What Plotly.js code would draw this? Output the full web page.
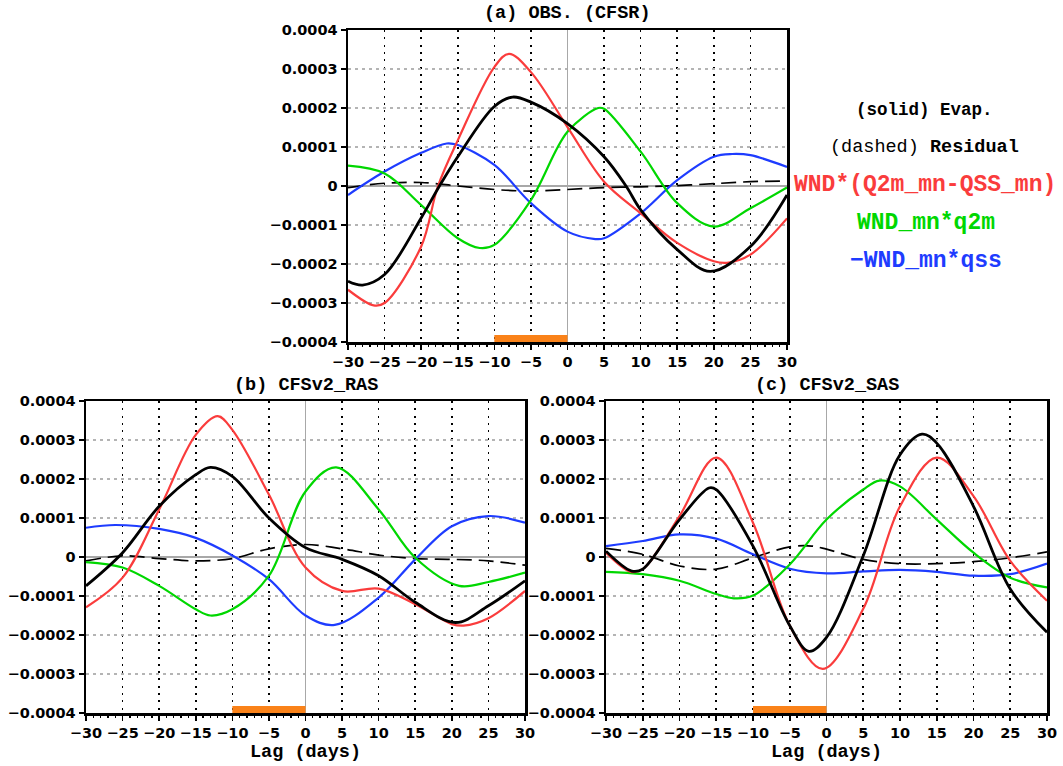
<!DOCTYPE html>
<html>
<head>
<meta charset="utf-8">
<script src="https://cdn.plot.ly/plotly-3.0.1.min.js"></script>
<style>html,body{margin:0;padding:0;background:#fff;}#chart{width:1063px;height:766px;}</style>
</head>
<body>
<div id="chart"></div>
<script>
// ---- Data ----
const xTicks = [-30,-25,-20,-15,-10,-5,0,5,10,15,20,25,30];
const yTicks = [-0.0004,-0.0003,-0.0002,-0.0001,0,0.0001,0.0002,0.0003,0.0004];
const yTickLabels = ['\u22120.0004','\u22120.0003','\u22120.0002','\u22120.0001','0','0.0001','0.0002','0.0003','0.0004'];
const panelTitles = ['(a) OBS. (CFSR)','(b) CFSv2_RAS','(c) CFSv2_SAS'];
const xTitle = 'Lag (days)';
const seriesNames = ['Evap.','WND*(Q2m_mn-QSS_mn)','WND_mn*q2m','-WND_mn*qss','Residual'];
const onsetWindow = [-10, 0];

// Panel (a)
const aEvapX = [-30,-28,-25,-20,-17.5,-15,-10,-7.5,-5,0,5,8,10,15,19.5,25,30];
const aEvapY = [-2.44e-4,-2.54e-4,-2.27e-4,-0.82e-4,0,0.75e-4,2.04e-4,2.28e-4,2.15e-4,1.6e-4,0.75e-4,0,-0.61e-4,-1.63e-4,-2.19e-4,-1.55e-4,-0.23e-4];
const aWndX = [-30,-26.5,-25,-20,-17.7,-15,-10,-8,-5,0,5,10,15,20,21.8,25,30];
const aWndY = [-2.66e-4,-3.06e-4,-3.0e-4,-1.55e-4,0,1.17e-4,3.05e-4,3.39e-4,2.92e-4,1.51e-4,0.11e-4,-0.7e-4,-1.46e-4,-1.93e-4,-1.97e-4,-1.76e-4,-0.83e-4];
const aQ2mX = [-30,-25,-20,-15,-12,-10,-5,0,4.2,5,10,15,20,25,30];
const aQ2mY = [0.52e-4,0.32e-4,-0.49e-4,-1.34e-4,-1.59e-4,-1.51e-4,-0.36e-4,1.39e-4,2.0e-4,1.98e-4,0.88e-4,-0.44e-4,-1.04e-4,-0.57e-4,-0.04e-4];
const aQssX = [-30,-25,-20,-16.5,-15,-10,-5,0,3.8,5,10,15,20,22.5,25,30];
const aQssY = [-0.23e-4,0.37e-4,0.85e-4,1.09e-4,1.05e-4,0.54e-4,-0.44e-4,-1.17e-4,-1.36e-4,-1.34e-4,-0.7e-4,0.15e-4,0.75e-4,0.82e-4,0.79e-4,0.49e-4];
const aResX = [-30,-25,-20,-15,-10,-5,0,5,10,15,20,25,30];
const aResY = [-0.04e-4,0.07e-4,0.09e-4,0,-0.09e-4,-0.13e-4,-0.09e-4,-0.04e-4,-0.02e-4,0.01e-4,0.06e-4,0.11e-4,0.13e-4];

// Panel (b)
const bEvapX = [-30,-25,-20,-15,-13,-10,-5,0,5,10,15,20.5,25,30];
const bEvapY = [-0.74e-4,0.11e-4,1.3e-4,2.11e-4,2.3e-4,2.07e-4,1.0e-4,0.24e-4,-0.06e-4,-0.48e-4,-1.16e-4,-1.68e-4,-1.25e-4,-0.61e-4];
const bWndX = [-30,-25,-20,-15,-12,-10,-5,0,5,10,15,20,21.6,25,30];
const bWndY = [-1.29e-4,-0.53e-4,1.22e-4,3.13e-4,3.61e-4,3.26e-4,1.6e-4,-0.27e-4,-0.87e-4,-0.81e-4,-1.21e-4,-1.72e-4,-1.76e-4,-1.57e-4,-0.87e-4];
const bQ2mX = [-30,-25,-20,-15,-13,-10,-5,0,4.2,10,15,21,25,30];
const bQ2mY = [-0.13e-4,-0.27e-4,-0.74e-4,-1.34e-4,-1.5e-4,-1.34e-4,-0.48e-4,1.68e-4,2.3e-4,1.22e-4,-0.02e-4,-0.74e-4,-0.64e-4,-0.4e-4];
const bQssX = [-30,-26,-20,-15,-10,-5,0,4,10,15,20,25,30];
const bQssY = [0.75e-4,0.82e-4,0.72e-4,0.49e-4,0.04e-4,-0.57e-4,-1.5e-4,-1.74e-4,-1.04e-4,-0.06e-4,0.79e-4,1.05e-4,0.88e-4];
const bResX = [-30,-25,-20,-15,-10,-5,0,5,10,15,20,25,30];
const bResY = [-0.1e-4,0.03e-4,-0.04e-4,-0.1e-4,-0.04e-4,0.21e-4,0.32e-4,0.21e-4,0.05e-4,-0.04e-4,-0.06e-4,-0.1e-4,-0.21e-4];

// Panel (c)
const cEvapX = [-30,-26.5,-25,-20,-16,-15,-10,-5,-2.4,0,5,10,13,15,20,25,30];
const cEvapY = [0.15e-4,-0.36e-4,-0.31e-4,0.96e-4,1.77e-4,1.73e-4,0.28e-4,-1.76e-4,-2.42e-4,-2.06e-4,0.03e-4,2.62e-4,3.15e-4,2.92e-4,1.3e-4,-0.82e-4,-1.93e-4];
const cWndX = [-30,-26.6,-25,-20,-15,-10,-5,-0.5,5,10,15,20,25,30];
const cWndY = [0.11e-4,-0.38e-4,-0.31e-4,1.05e-4,2.55e-4,0.88e-4,-1.76e-4,-2.87e-4,-1.33e-4,1.3e-4,2.55e-4,1.56e-4,-0.1e-4,-1.12e-4];
const cQ2mX = [-30,-25,-20,-15,-12.6,-10,-5,0,5,7.2,10,15,20,25,30];
const cQ2mY = [-0.38e-4,-0.44e-4,-0.61e-4,-0.95e-4,-1.06e-4,-0.99e-4,-0.19e-4,0.96e-4,1.73e-4,1.96e-4,1.81e-4,0.96e-4,0.11e-4,-0.53e-4,-0.78e-4];
const cQssX = [-30,-25,-20,-15,-10,-5,0,5,10,15,20,25,30];
const cQssY = [0.28e-4,0.41e-4,0.58e-4,0.47e-4,0.07e-4,-0.3e-4,-0.42e-4,-0.37e-4,-0.33e-4,-0.38e-4,-0.48e-4,-0.44e-4,-0.17e-4];
const cResX = [-30,-25,-20,-15,-10,-5,-2,0,5,10,15,20,25,30];
const cResY = [0.22e-4,0.07e-4,-0.23e-4,-0.31e-4,-0.02e-4,0.26e-4,0.28e-4,0.2e-4,-0.06e-4,-0.17e-4,-0.17e-4,-0.12e-4,-0.02e-4,0.13e-4];

// ---- Styling ----
const COL = {evap:'#000000', wnd:'rgb(250,60,60)', q2m:'rgb(0,215,0)', qss:'rgb(30,60,255)', res:'#000000', bar:'rgb(250,130,25)'};
const W = 1063, H = 766;
const px = v => v / W, py = v => 1 - v / H;

function line(x, y, color, width, dash, xa, ya, name) {
  return {x:x, y:y, type:'scatter', mode:'lines', name:name, xaxis:xa, yaxis:ya,
          line:{color:color, width:width, dash:dash||'solid', shape:'spline', smoothing:1.0},
          hoverinfo:'skip', showlegend:false};
}
const panels = [
  {xa:'x', ya:'y', d:[aEvapX,aEvapY,aWndX,aWndY,aQ2mX,aQ2mY,aQssX,aQssY,aResX,aResY]},
  {xa:'x2', ya:'y2', d:[bEvapX,bEvapY,bWndX,bWndY,bQ2mX,bQ2mY,bQssX,bQssY,bResX,bResY]},
  {xa:'x3', ya:'y3', d:[cEvapX,cEvapY,cWndX,cWndY,cQ2mX,cQ2mY,cQssX,cQssY,cResX,cResY]}
];
const traces = [];
panels.forEach(p => {
  const d = p.d;
  traces.push(line(d[8], d[9], COL.res, 1.7, '15px,7px', p.xa, p.ya, seriesNames[4]));
  traces.push(line(d[6], d[7], COL.qss, 2.2, 'solid', p.xa, p.ya, seriesNames[3]));
  traces.push(line(d[4], d[5], COL.q2m, 2.2, 'solid', p.xa, p.ya, seriesNames[2]));
  traces.push(line(d[2], d[3], COL.wnd, 2.2, 'solid', p.xa, p.ya, seriesNames[1]));
  traces.push(line(d[0], d[1], COL.evap, 2.8, 'solid', p.xa, p.ya, seriesNames[0]));
});

const tickFont = {family:'DejaVu Sans, Verdana, sans-serif', size:14.5, color:'#000', weight:'bold'};
function xaxis(domain, anchor) {
  return {domain:domain, anchor:anchor, range:[-30,30], tickmode:'array', tickvals:xTicks,
    ticktext:xTicks.map(v => v < 0 ? '\u2212' + Math.abs(v) : String(v)),
    showgrid:true, gridcolor:'#000', griddash:'2px,5.3px', gridwidth:1.6,
    zeroline:true, zerolinecolor:'#a8a8a8', zerolinewidth:1.5,
    showline:true, mirror:true, linecolor:'#000', linewidth:2.5,
    ticks:'outside', ticklen:5, tickwidth:1.6, tickcolor:'#000', tickfont:tickFont,
    minor:{dtick:1, ticks:'outside', ticklen:2.5, tickwidth:1.3, tickcolor:'#000', showgrid:false},
    fixedrange:true};
}
function yaxis(domain, anchor) {
  return {domain:domain, anchor:anchor, range:[-0.0004,0.0004], tickmode:'array', tickvals:yTicks, ticktext:yTickLabels,
    showgrid:true, gridcolor:'#b4b4b4', griddash:'3px,4px', gridwidth:1.3,
    zeroline:true, zerolinecolor:'#a8a8a8', zerolinewidth:1.5,
    showline:true, mirror:true, linecolor:'#000', linewidth:2.5,
    ticks:'outside', ticklen:5, tickwidth:1.6, tickcolor:'#000', tickfont:tickFont, fixedrange:true};
}

const monoFam = 'Liberation Mono, Courier New, monospace';
function ann(text, x, y, size, color, weight) {
  return {text:text, xref:'paper', yref:'paper', x:px(x), y:py(y), xanchor:'center', yanchor:'middle',
          showarrow:false, font:{family:monoFam, size:size, color:color||'#000', weight:weight||'bold'}};
}
const annotations = [
  ann(panelTitles[0], 567, 14, 18.5),
  ann(panelTitles[1], 305.5, 385, 18.5),
  ann(panelTitles[2], 826.5, 385, 18.5),
  ann(xTitle, 305.5, 752, 18.5),
  ann(xTitle, 826.5, 752, 18.5),
  ann('(solid) Evap.', 924, 110, 17.5),
  ann('<span style="font-weight:normal">(dashed)</span> Residual', 924, 147, 18.5),
  ann(seriesNames[1], 925, 185, 23, COL.wnd),
  ann(seriesNames[2], 926, 223, 23, COL.q2m),
  ann('\u2212WND_mn*qss', 926, 261, 23, COL.qss)
];

const shapes = [['x','y'],['x2','y2'],['x3','y3']].map(r => ({
  type:'rect', xref:r[0], yref:r[1], x0:onsetWindow[0], x1:onsetWindow[1], y0:-0.0004, y1:-0.000382,
  fillcolor:COL.bar, line:{width:0}, layer:'above'
}));

const layout = {
  width:W, height:H, margin:{l:0,r:0,t:0,b:0}, paper_bgcolor:'#fff', plot_bgcolor:'#fff',
  showlegend:false,
  xaxis: xaxis([px(348), px(787)], 'y'),
  yaxis: yaxis([py(342), py(30)], 'x'),
  xaxis2: xaxis([px(86), px(525)], 'y2'),
  yaxis2: yaxis([py(713), py(401)], 'x2'),
  xaxis3: xaxis([px(606), px(1047)], 'y3'),
  yaxis3: yaxis([py(713), py(401)], 'x3'),
  annotations: annotations,
  shapes: shapes
};
Plotly.newPlot('chart', traces, layout, {staticPlot:true, displayModeBar:false});
</script>
</body>
</html>
